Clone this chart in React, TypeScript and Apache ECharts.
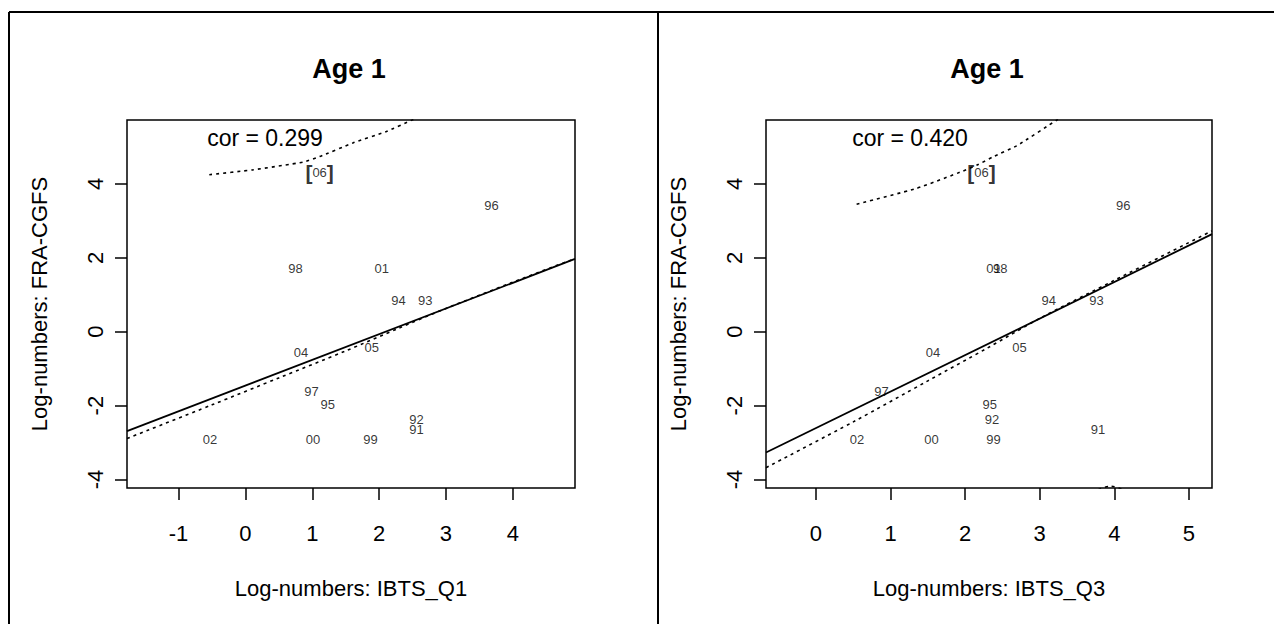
import React, { useEffect, useRef } from "react";
import * as echarts from "echarts";

const FONT = "'Liberation Sans', Arial, Helvetica, sans-serif";

// Years labelled in both panels (no 03)
const years = ["91", "92", "93", "94", "95", "96", "97", "98", "99", "00", "01", "02", "04", "05"];
// Log-numbers FRA-CGFS (y, shared by both panels)
const yFRA = [-2.66, -2.38, 0.85, 0.85, -1.97, 3.41, -1.62, 1.70, -2.93, -2.93, 1.70, -2.93, -0.56, -0.44];
// Log-numbers IBTS_Q1 (x, left panel)
const xQ1 = [2.56, 2.56, 2.69, 2.29, 1.23, 3.68, 0.99, 0.75, 1.87, 1.01, 2.04, -0.53, 0.83, 1.89];
// Log-numbers IBTS_Q3 (x, right panel)
const xQ3 = [3.78, 2.36, 3.76, 3.12, 2.33, 4.12, 0.88, 2.47, 2.38, 1.55, 2.38, 0.55, 1.57, 2.73];

// Highlighted latest year
const label06 = "06";
const y06 = 4.31;
const x06Q1 = 1.11;
const x06Q3 = 2.22;

// Correlations
const corQ1 = "0.299";
const corQ3 = "0.420";

// Fitted regression lines
const fitQ1 = [[-1.771, -2.69], [4.93, 1.97]];
const fitQ3 = [[-0.67, -3.27], [5.31, 2.64]];

// Dotted curves (lower, near the fit)
const lowQ1 = [[-1.771, -2.89], [-0.5, -1.98], [0.5, -1.25], [1.5, -0.52], [2.3, 0.1], [3.0, 0.63], [4.0, 1.34], [4.93, 1.98]];
const lowQ3 = [[-0.67, -3.68], [0.5, -2.44], [1.5, -1.33], [2.3, -0.44], [3.0, 0.36], [4.0, 1.39], [5.31, 2.73]];
// Dotted curves (upper)
const upQ1 = [[-0.54, 4.25], [0.11, 4.38], [0.86, 4.59], [1.11, 4.74], [1.61, 5.11], [2.11, 5.42], [2.48, 5.72], [2.8, 5.98]];
const upQ3 = [[0.545, 3.45], [1.35, 3.88], [1.975, 4.35], [2.18, 4.53], [2.38, 4.74], [2.69, 5.03], [3.23, 5.73], [3.45, 6.0]];
const bottomQ3 = [[3.7, -4.35], [3.95, -4.18], [4.2, -4.35]];

// Axis ticks
const xTicksQ1 = [-1, 0, 1, 2, 3, 4];
const xTicksQ3 = [0, 1, 2, 3, 4, 5];
const yTicks = [-4, -2, 0, 2, 4];

const xRangeQ1 = [-1.771, 4.93];
const xRangeQ3 = [-0.67, 5.31];
const yRange = [-4.23, 5.73];

const titleText = "Age 1";
const xNameQ1 = "Log-numbers: IBTS_Q1";
const xNameQ3 = "Log-numbers: IBTS_Q3";
const yName = "Log-numbers: FRA-CGFS";

export default function App() {
  const ref = useRef<HTMLDivElement>(null);

  useEffect(() => {
    if (!ref.current) return;
    const chart = echarts.init(ref.current, null, { renderer: "svg" });

    const mkX = (gi: number, range: number[], ticks: number[], name: string) => ({
      gridIndex: gi,
      type: "value",
      position: "bottom",
      min: range[0],
      max: range[1],
      axisLine: { show: false, onZero: false },
      splitLine: { show: false },
      axisTick: { show: true, inside: false, length: 12, customValues: ticks, lineStyle: { color: "#000", width: 1.5 } },
      axisLabel: { customValues: ticks, margin: 34, fontSize: 22, lineHeight: 22, color: "#000", fontFamily: FONT },
      name,
      nameLocation: "middle",
      nameGap: 89,
      nameTextStyle: { fontSize: 22, lineHeight: 22, color: "#000", fontFamily: FONT },
    });
    const mkY = (gi: number) => ({
      gridIndex: gi,
      type: "value",
      position: "left",
      min: yRange[0],
      max: yRange[1],
      axisLine: { show: false, onZero: false },
      splitLine: { show: false },
      axisTick: { show: true, inside: false, length: 12, customValues: yTicks, lineStyle: { color: "#000", width: 1.5 } },
      axisLabel: { customValues: yTicks, rotate: 90, margin: 21, fontSize: 22, lineHeight: 22, color: "#000", fontFamily: FONT },
      name: yName,
      nameLocation: "middle",
      nameRotate: 90,
      nameGap: 77,
      nameTextStyle: { fontSize: 22, lineHeight: 22, color: "#000", fontFamily: FONT },
    });

    const labelSeries = (gi: number, xs: number[], x06: number) => [
      {
        type: "scatter",
        xAxisIndex: gi,
        yAxisIndex: gi,
        symbolSize: 1,
        itemStyle: { color: "rgba(0,0,0,0)" },
        data: years.map((n, i) => ({ name: n, value: [xs[i], yFRA[i]] })),
        label: { show: true, position: "inside", formatter: "{b}", fontSize: 13, color: "#000", fontFamily: FONT },
        labelLayout: { hideOverlap: false },
        z: 5,
      },
      {
        type: "scatter",
        xAxisIndex: gi,
        yAxisIndex: gi,
        symbolSize: 1,
        itemStyle: { color: "rgba(0,0,0,0)" },
        data: [{ name: label06, value: [x06, y06] }],
        label: {
          show: true,
          position: "inside",
          formatter: "{br|[}{n|{b}}{br|]}",
          color: "#000",
          fontFamily: FONT,
          rich: {
            br: { fontSize: 21, fontWeight: "bold", color: "#000", fontFamily: FONT },
            n: { fontSize: 13, color: "#000", fontFamily: FONT },
          },
        },
        z: 5,
      },
    ];

    const lineSeries = (gi: number, data: number[][], dotted: boolean, smooth: number | boolean) => ({
      type: "line",
      xAxisIndex: gi,
      yAxisIndex: gi,
      data,
      showSymbol: false,
      symbol: "none",
      smooth,
      clip: true,
      lineStyle: dotted ? { color: "#000", width: 1.6, type: [3, 4] } : { color: "#000", width: 1.8 },
      silent: true,
    });

    const option = {
      animation: false,
      backgroundColor: "#fff",
      grid: [
        { left: 127, top: 120, width: 448, height: 368, show: true, borderColor: "#000", borderWidth: 1.5, backgroundColor: "transparent" },
        { left: 766, top: 120, width: 446, height: 368, show: true, borderColor: "#000", borderWidth: 1.5, backgroundColor: "transparent" },
      ],
      xAxis: [mkX(0, xRangeQ1, xTicksQ1, xNameQ1), mkX(1, xRangeQ3, xTicksQ3, xNameQ3)],
      yAxis: [mkY(0), mkY(1)],
      series: [
        lineSeries(0, fitQ1, false, false),
        lineSeries(0, lowQ1, true, 0.3),
        lineSeries(0, upQ1, true, 0.15),
        ...labelSeries(0, xQ1, x06Q1),
        lineSeries(1, fitQ3, false, false),
        lineSeries(1, lowQ3, true, 0.3),
        lineSeries(1, upQ3, true, 0.15),
        lineSeries(1, bottomQ3, true, 0.3),
        ...labelSeries(1, xQ3, x06Q3),
      ],
      graphic: [
        { type: "line", shape: { x1: 9, y1: 12, x2: 1274, y2: 12 }, style: { stroke: "#000", lineWidth: 2 } },
        { type: "line", shape: { x1: 9, y1: 12, x2: 9, y2: 624 }, style: { stroke: "#000", lineWidth: 2 } },
        { type: "line", shape: { x1: 658, y1: 12, x2: 658, y2: 624 }, style: { stroke: "#000", lineWidth: 2 } },
        { type: "text", x: 349, y: 69, style: { text: titleText, fontSize: 27, fontWeight: "bold", fontFamily: FONT, fill: "#000", textAlign: "center", textVerticalAlign: "middle" } },
        { type: "text", x: 987, y: 69, style: { text: titleText, fontSize: 27, fontWeight: "bold", fontFamily: FONT, fill: "#000", textAlign: "center", textVerticalAlign: "middle" } },
        { type: "text", x: 265, y: 138, style: { text: "cor = " + corQ1, fontSize: 23, fontFamily: FONT, fill: "#000", textAlign: "center", textVerticalAlign: "middle" } },
        { type: "text", x: 910, y: 138, style: { text: "cor = " + corQ3, fontSize: 23, fontFamily: FONT, fill: "#000", textAlign: "center", textVerticalAlign: "middle" } },
      ],
    };

    chart.setOption(option as any);
    return () => chart.dispose();
  }, []);

  return <div ref={ref} style={{ position: "fixed", left: 0, top: 0, width: 1274, height: 624 }} />;
}
